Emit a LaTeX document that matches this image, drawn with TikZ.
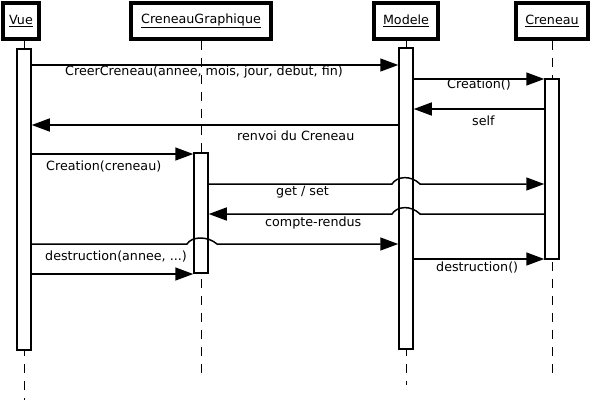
\documentclass[tikz,border=0pt]{standalone}
\usepackage{fontspec}
\setmainfont{DejaVu Sans}
\usetikzlibrary{arrows.meta}
\begin{document}
\begin{tikzpicture}[x=1pt,y=-1pt,
 every node/.style={font=\fontsize{12.7}{14}\selectfont},
 head/.style={draw, line width=3.5pt, inner sep=0, minimum height=36pt},
 life/.style={line width=1pt, dash pattern=on 9pt off 8pt},
 bar/.style={draw, fill=white, line width=1.5pt, minimum width=14pt, inner sep=0},
 msg/.style={line width=1.5pt, -{Triangle[length=18pt,width=13pt]}},
 lbl/.style={anchor=west, inner sep=0}]
\useasboundingbox (0,0) rectangle (592,402);
% headers
\node[head, minimum width=36pt] (vue) at (21,21) {\underline{Vue}};
\node[head, minimum width=140pt] (cg) at (201,21) {\underline{CreneauGraphique}};
\node[head, minimum width=64pt] (mod) at (406,21) {\underline{Modele}};
\node[head, minimum width=72pt] (cr) at (552,21) {\underline{Creneau}};
% lifelines
\coordinate (vueend) at (24,400);
\coordinate (cgend) at (201,378);
\coordinate (modend) at (406,385);
\coordinate (crend) at (552,373);
\draw[life] (vueend |- vue.south) -- (vueend);
\draw[life] (cg.south) -- (cgend);
\draw[life] (mod.south) -- (modend);
\draw[life] (cr.south) -- (crend);
% activation bars
\node[bar, minimum height=301pt] (vb) at (24,199.5) {};
\node[bar, minimum height=120pt] (cgb) at (201,213) {};
\node[bar, minimum height=301pt] (mb) at (406,198.5) {};
\node[bar, minimum height=180pt] (crb) at (552,169) {};
% messages
\draw[msg] (vb.east |- 0,65) -- (mb.west |- 0,65);
\draw[msg] (mb.east |- 0,79) -- (crb.west |- 0,79);
\draw[msg] (crb.west |- 0,109) -- (mb.east |- 0,109);
\draw[msg] (mb.west |- 0,125) -- (vb.east |- 0,125);
\draw[msg] (vb.east |- 0,154) -- (cgb.west |- 0,154);
\draw[msg] (cgb.east |- 0,184) -- (392,184) .. controls (397,176) and (411,175) .. (420,184) -- (crb.west |- 0,184);
\draw[msg] (crb.west |- 0,214) -- (420,214) .. controls (411,205) and (397,206) .. (392,214) -- (cgb.east |- 0,214);
\draw[msg] (vb.east |- 0,244) -- (187,244) .. controls (192,236) and (208,236) .. (217,244) -- (mb.west |- 0,244);
\draw[msg] (mb.east |- 0,259) -- (crb.west |- 0,259);
\draw[msg] (vb.east |- 0,274) -- (cgb.west |- 0,274);
% labels
\node[lbl] (l1) at (65,72) {CreerCreneau(annee, mois, jour, debut, fin)};
\node[lbl] (l2) at (447,85) {Creation()};
\node[lbl] (l3) at (472,121) {self};
\node[lbl] (l4) at (237,136) {renvoi du Creneau};
\node[lbl] (l5) at (46,167) {Creation(creneau)};
\node[lbl] (l6) at (276,192) {get / set};
\node[lbl] (l7) at (265,223) {compte-rendus};
\node[lbl] (l8) at (45,257) {destruction(annee, ...)};
\node[lbl] (l9) at (436,268) {destruction()};
\end{tikzpicture}
\end{document}
